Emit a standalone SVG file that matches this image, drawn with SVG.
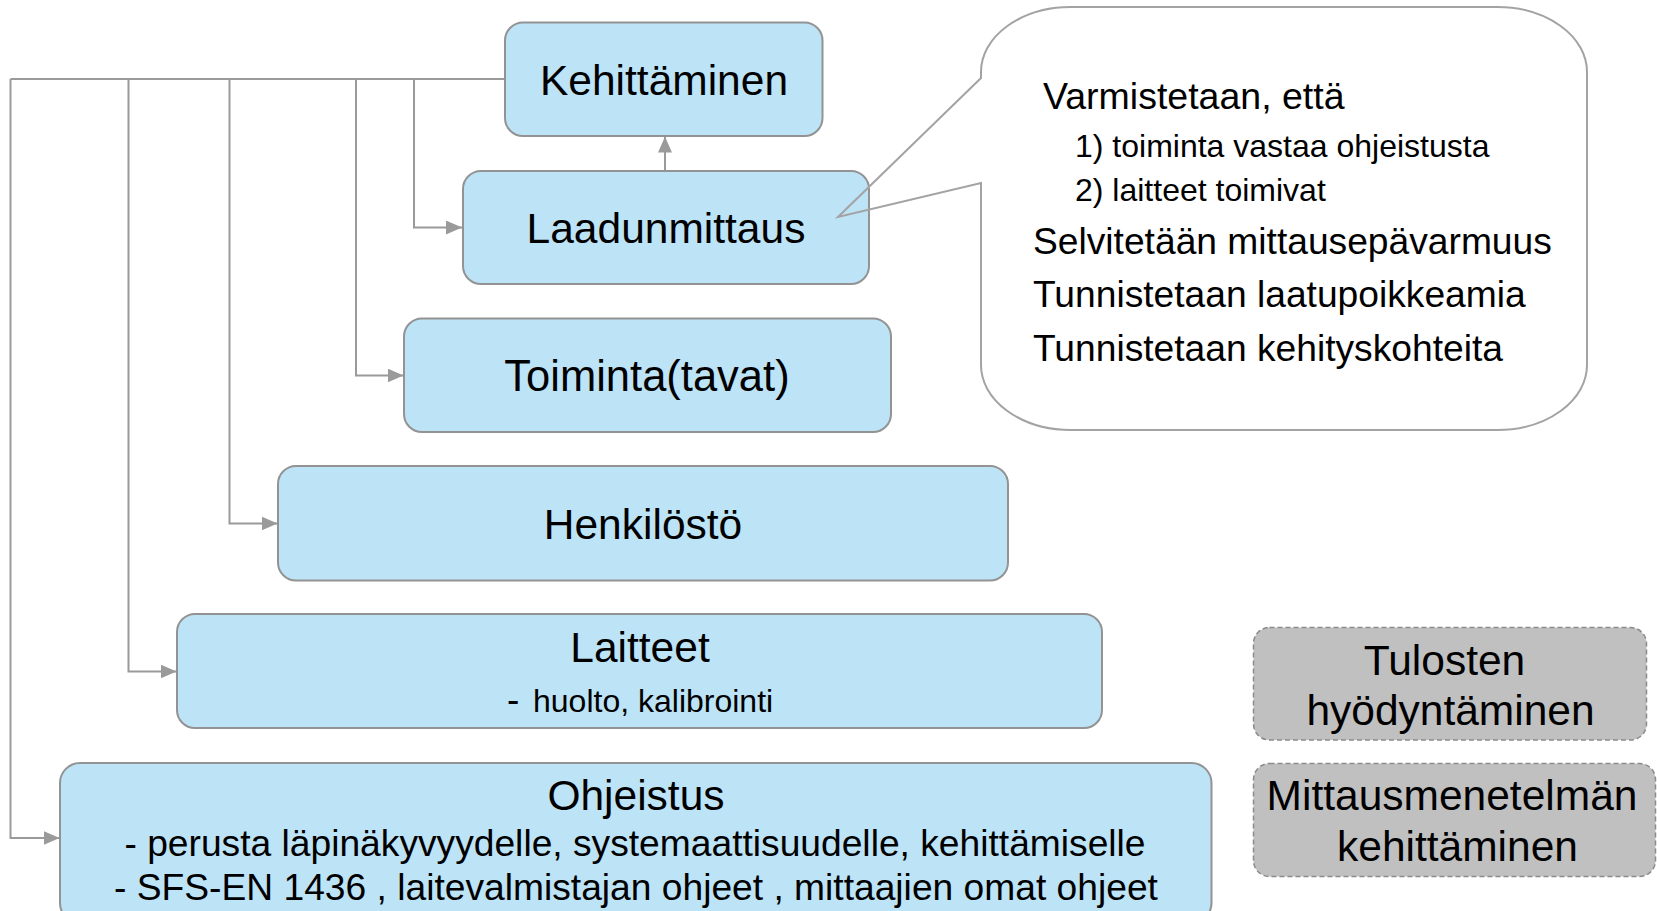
<svg xmlns="http://www.w3.org/2000/svg" width="1657" height="911" viewBox="0 0 1657 911">
<defs>
<style>
.box{fill:#BDE3F7;stroke:#939393;stroke-width:2}
.gbox{fill:#C0C0C0;stroke:#8a8a8a;stroke-width:1.5;stroke-dasharray:5 3}
.t{font-family:"Liberation Sans",Arial,sans-serif;fill:#000}
.c{text-anchor:middle}
.conn{fill:none;stroke:#9a9a9a;stroke-width:2}
</style>
<marker id="ah" viewBox="0 0 16 14" refX="16" refY="7" markerWidth="16" markerHeight="14" markerUnits="userSpaceOnUse" orient="auto">
<path d="M0,0 L16,7 L0,14 Z" fill="#9a9a9a"/>
</marker>
</defs>
<rect width="1657" height="911" fill="#fff"/>

<g id="connectors">
<path class="conn" d="M505,79 L10.5,79"/>
<path class="conn" d="M414,79 L414,227.5 L462,227.5" marker-end="url(#ah)"/>
<path class="conn" d="M356,79 L356,375.5 L403.5,375.5" marker-end="url(#ah)"/>
<path class="conn" d="M229.5,79 L229.5,523.5 L277.5,523.5" marker-end="url(#ah)"/>
<path class="conn" d="M128.5,79 L128.5,671.5 L176.5,671.5" marker-end="url(#ah)"/>
<path class="conn" d="M10.5,79 L10.5,838 L59.5,838" marker-end="url(#ah)"/>
<path class="conn" d="M665,170.5 L665,136.5" marker-end="url(#ah)"/>
</g>

<g id="kehittaminen">
<rect class="box" x="505" y="22.5" width="317.5" height="113.5" rx="18"/>
<text class="t c" x="664" y="95" font-size="42.5">Kehittäminen</text>
</g>

<g id="laadunmittaus">
<rect class="box" x="463" y="171" width="406" height="113" rx="18"/>
<text class="t c" x="666" y="243" font-size="42.5">Laadunmittaus</text>
</g>

<g id="toiminta">
<rect class="box" x="404" y="318.5" width="487" height="113.5" rx="18"/>
<text class="t c" x="647" y="391" font-size="43.5">Toiminta(tavat)</text>
</g>

<g id="henkilosto">
<rect class="box" x="278" y="466" width="730" height="114.5" rx="18"/>
<text class="t c" x="643" y="539" font-size="42.5">Henkilöstö</text>
</g>

<g id="laitteet">
<rect class="box" x="177" y="614" width="925" height="114" rx="18"/>
<text class="t c" x="640" y="662" font-size="42.5">Laitteet</text>
<text class="t" x="507" y="712" font-size="37">-</text>
<text class="t" x="533" y="712" font-size="32">huolto, kalibrointi</text>
</g>

<g id="ohjeistus">
<rect class="box" x="60" y="763" width="1151.5" height="160" rx="20"/>
<text class="t c" x="636" y="810" font-size="42.5">Ohjeistus</text>
<text class="t c" x="635" y="856" font-size="37.2">- perusta läpinäkyvyydelle, systemaattisuudelle, kehittämiselle</text>
<text class="t c" x="636" y="900" font-size="37.2">- SFS-EN 1436 , laitevalmistajan ohjeet , mittaajien omat ohjeet</text>
</g>

<g id="tulosten">
<rect class="gbox" x="1253.5" y="627.5" width="393" height="112.5" rx="16"/>
<text class="t c" x="1444.5" y="675" font-size="42.5">Tulosten</text>
<text class="t c" x="1450.5" y="725" font-size="42.5">hyödyntäminen</text>
</g>

<g id="mittausmenetelma">
<rect class="gbox" x="1253.5" y="763.5" width="402" height="113" rx="16"/>
<text class="t c" x="1452" y="810" font-size="42.5">Mittausmenetelmän</text>
<text class="t c" x="1457.5" y="861" font-size="42.5">kehittäminen</text>
</g>

<g id="callout">
<path d="M981,78 L838,217 L981,183 L981,365 A90,65 0 0 0 1071,430 L1497,430 A90,65 0 0 0 1587,365 L1587,72 A90,65 0 0 0 1497,7 L1071,7 A90,65 0 0 0 981,72 Z" fill="none" stroke="#a3a3a3" stroke-width="2"/>
<text class="t" x="1043" y="109" font-size="37.5">Varmistetaan, että</text>
<text class="t" x="1075" y="157" font-size="32">1) toiminta vastaa ohjeistusta</text>
<text class="t" x="1075" y="201" font-size="32">2) laitteet toimivat</text>
<text class="t" x="1033" y="254" font-size="37.2">Selvitetään mittausepävarmuus</text>
<text class="t" x="1033" y="307" font-size="37.2">Tunnistetaan laatupoikkeamia</text>
<text class="t" x="1033" y="361" font-size="37.2">Tunnistetaan kehityskohteita</text>
</g>
</svg>
